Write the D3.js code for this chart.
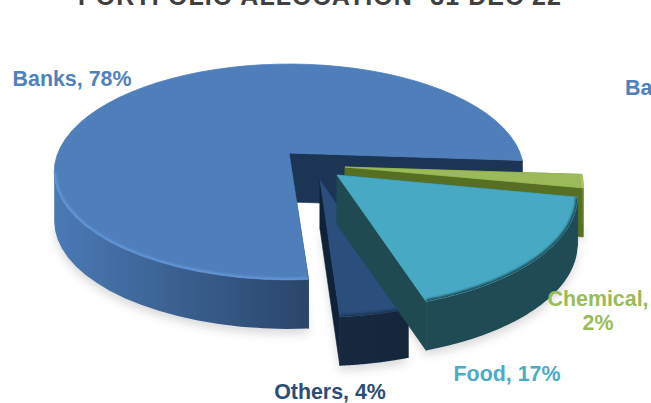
<!DOCTYPE html>
<html>
<head>
<meta charset="utf-8">
<script src="https://cdn.jsdelivr.net/npm/d3@7"></script>
<style>
  html, body { margin: 0; padding: 0; background: #fff; overflow: hidden; }
  svg { display: block; }
  text { font-family: "Liberation Sans", Arial, sans-serif; font-weight: bold; }
</style>
</head>
<body>
<script>
// Portfolio allocation, 31 Dec 22
const categories = ["Banks", "Chemical", "Food", "Others"];
const shares = [78, 2, 17, 4];
const titleText = "PORTFOLIO ALLOCATION- 31 DEC 22";

const topColors = ["#4e7fbb", "#9bbb59", "#47a9c3", "#2b4e7c"];
const wallColors = ["#1d3554", "#566f23", "#1f4a52", "#0f2238"];
const sideStart = ["#4a7ab5", "#6f8c2e", "#1f4b54", "#16293f"];
const sideEnd = ["#2a4569", "#5a7425", "#1f4b56", "#14263c"];
const rimColors = ["#6497d8", "#a9c968", "#1d4a55", "#1a3553"];
const labelColors = ["#4f81bd", "#9bbb59", "#4bacc6", "#2c4d75"];

// Where each slice's apex sits once pulled out of the pie, and how much it is enlarged
const apex = [[289, 153], [345, 167], [337, 175], [320, 180]];
const enlarge = [[1.005, 1], [1.02, 1], [1.03, 1.06], [1.02, 1.08]];
const depth = 49;

// Perspective of the tilted disc
const tilt = 0.176, radiusX = 230, radiusY = 104.6;
const project = (angle, i) => {
  const u = Math.sin(angle), v = -Math.cos(angle), w = 1 - tilt * v;
  return [apex[i][0] + enlarge[i][0] * radiusX * u / w,
          apex[i][1] + enlarge[i][1] * radiusY * v / w];
};

const width = 651, height = 403;
const toRad = Math.PI / 180;
const slices = d3.pie().sort(null)
  .startAngle(176 * toRad).endAngle(536 * toRad)(shares);

const svg = d3.select("body").append("svg").attr("width", width).attr("height", height);
const defs = svg.append("defs");
defs.append("filter").attr("id", "shadow").attr("x", "-20%").attr("y", "-20%").attr("width", "140%").attr("height", "140%")
  .append("feGaussianBlur").attr("stdDeviation", 5);
defs.append("filter").attr("id", "soft").attr("x", "-20%").attr("y", "-20%").attr("width", "140%").attr("height", "140%")
  .append("feGaussianBlur").attr("stdDeviation", 1.1);

const line = d3.line();
const anglesOf = s => d3.range(0, 61).map(k => s.startAngle + (s.endAngle - s.startAngle) * k / 60);
const rimOf = (s, i) => anglesOf(s).map(a => project(a, i));
const lower = p => [p[0], p[1] + depth];

// Only the part of the rim facing the viewer has a visible outer wall;
// the longest unbroken run of such angles is kept
const frontAngles = s => {
  let best = [], run = [];
  anglesOf(s).forEach(a => {
    const deg = (a / toRad) % 360;
    if (deg >= 90 && deg <= 260) {
      run.push(a);
      if (run.length > best.length) best = run;
    } else {
      run = [];
    }
  });
  return best;
};

slices.forEach((s, i) => {
  const grad = defs.append("linearGradient").attr("id", "side" + i)
    .attr("gradientUnits", "userSpaceOnUse");
  const ext = d3.extent(frontAngles(s).map(a => project(a, i)), p => p[0]);
  grad.attr("x1", ext[0]).attr("x2", ext[1]).attr("y1", 0).attr("y2", 0);
  grad.append("stop").attr("offset", 0).attr("stop-color", sideStart[i]);
  grad.append("stop").attr("offset", 1).attr("stop-color", sideEnd[i]);
});

// Soft ground shadow under the pie
const shadow = svg.append("g").attr("filter", "url(#shadow)").attr("opacity", 0.22);
slices.forEach((s, i) => {
  const front = frontAngles(s).map(a => project(a, i));
  if (front.length < 2) return;
  shadow.append("path").attr("fill", "#555")
    .attr("d", line([lower(apex[i]), ...front.map(lower).map(p => [p[0], p[1] + 5])]) + "Z");
});

// Painter's order: back of the pie first, the food wedge last
[0, 1, 3, 2].forEach(i => {
  const s = slices[i], rim = rimOf(s, i), g = svg.append("g").attr("class", "slice");
  const a = apex[i];
  const outline = line([a, ...rim]) + "Z";
  const front = frontAngles(s).map(t => project(t, i));

  // Cut faces
  [rim[0], rim[60]].forEach(end => {
    g.append("path").attr("fill", wallColors[i]).attr("stroke", wallColors[i])
      .attr("stroke-width", 0.6).attr("stroke-linejoin", "round")
      .attr("d", line([a, end, lower(end), lower(a)]) + "Z");
  });
  // Curved outer wall
  if (front.length > 1) {
    g.append("path").attr("fill", `url(#side${i})`)
      .attr("d", line([...front, ...front.slice().reverse().map(lower)]) + "Z");
  }
  // Top face
  g.append("path").attr("fill", topColors[i]).attr("stroke", topColors[i])
    .attr("stroke-width", 0.8).attr("stroke-linejoin", "round").attr("d", outline);
  // Bevel along the front of the rim
  if (front.length > 1) {
    const id = "clip" + i;
    defs.append("clipPath").attr("id", id).append("path").attr("d", outline);
    g.append("g").attr("clip-path", `url(#${id})`).append("path")
      .attr("fill", "none").attr("stroke", rimColors[i]).attr("stroke-width", 4)
      .attr("filter", "url(#soft)")
      .attr("d", line(front));
  }
});

// Slice labels
const labels = [
  { i: 0, lines: ["Banks, 78%"], x: 72, y: 86 },
  { i: 1, lines: ["Chemical,", "2%"], x: 598, y: 306 },
  { i: 2, lines: ["Food, 17%"], x: 507, y: 381 },
  { i: 3, lines: ["Others, 4%"], x: 330, y: 399 }
];
labels.forEach(l => {
  const t = svg.append("text").attr("text-anchor", "middle").attr("font-size", 21.4)
    .attr("fill", labelColors[l.i]);
  l.lines.forEach((str, k) => t.append("tspan").attr("x", l.x).attr("y", l.y + k * 24).text(str));
});
svg.append("text").attr("x", 625).attr("y", 95).attr("font-size", 21.4)
  .attr("fill", labelColors[0]).text("Ba");

// Title, running off the top edge
svg.append("text").attr("x", 320).attr("y", 5).attr("text-anchor", "middle")
  .attr("font-size", 25).attr("fill", "#404040").attr("letter-spacing", 1.05).text(titleText);
</script>
</body>
</html>
